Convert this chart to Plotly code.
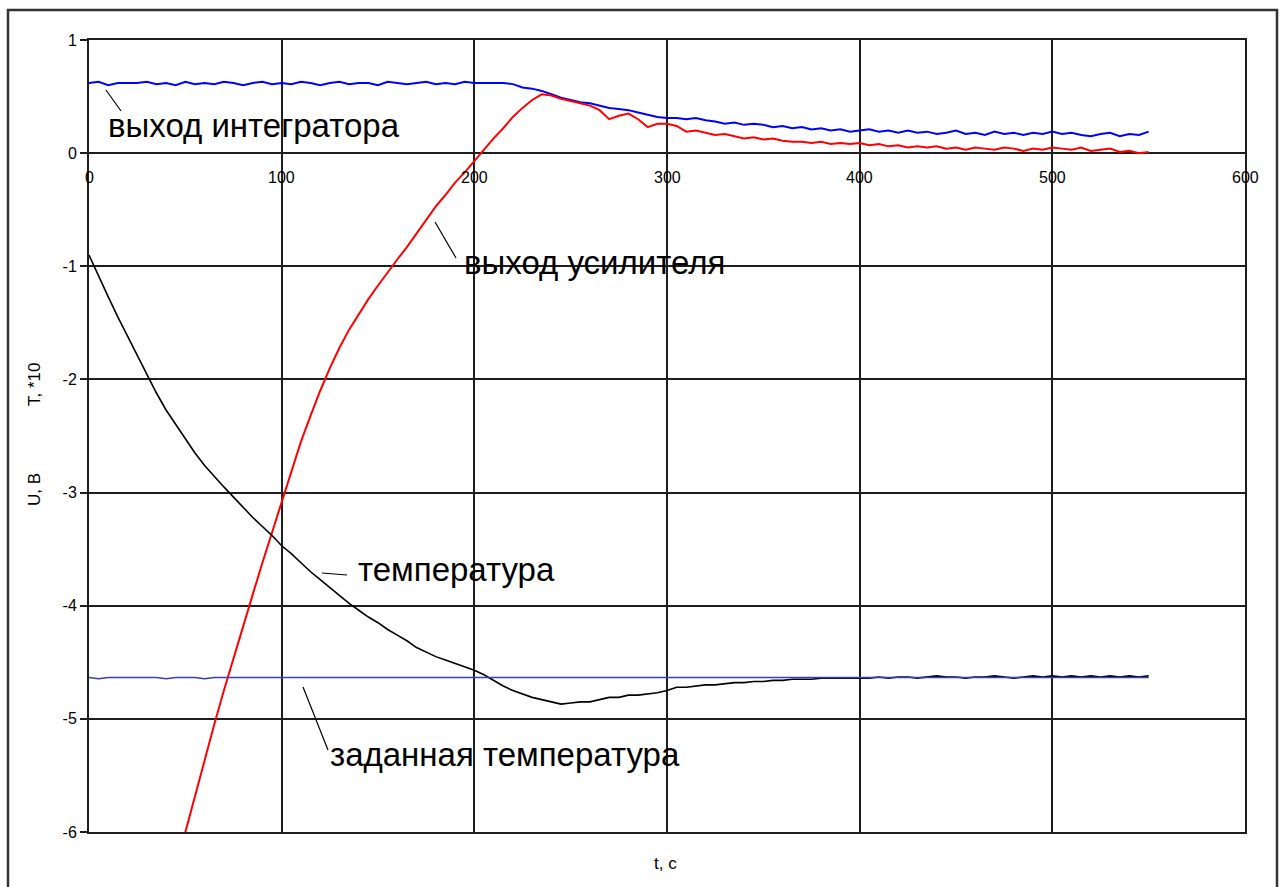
import plotly.graph_objects as go

# ---------------- data ----------------
time = list(range(0, 551, 5))  # t, c

integrator = [0.62, 0.63, 0.60, 0.62, 0.62, 0.62, 0.63, 0.61, 0.62, 0.60,
              0.63, 0.61, 0.62, 0.61, 0.63, 0.62, 0.60, 0.62, 0.63, 0.61,
              0.62, 0.61, 0.63, 0.62, 0.60, 0.62, 0.63, 0.61, 0.62, 0.62,
              0.60, 0.63, 0.62, 0.61, 0.62, 0.63, 0.61, 0.62, 0.61, 0.63,
              0.62, 0.62, 0.62, 0.62, 0.61,
              0.58, 0.57, 0.55, 0.52, 0.49, 0.47, 0.45, 0.44, 0.42, 0.40,
              0.39, 0.38, 0.36, 0.34, 0.32, 0.31, 0.31, 0.30, 0.31, 0.29,
              0.28, 0.26, 0.27, 0.25, 0.26, 0.25, 0.23, 0.24, 0.22, 0.23,
              0.21, 0.22, 0.20, 0.21, 0.19, 0.20, 0.21, 0.19, 0.20, 0.18,
              0.20, 0.18, 0.19, 0.17, 0.18, 0.20, 0.17, 0.18, 0.16, 0.19,
              0.17, 0.18, 0.16, 0.18, 0.17, 0.19, 0.17, 0.18, 0.16, 0.15,
              0.17, 0.18, 0.15, 0.17, 0.16, 0.19]

amp_time = time[9:]  # amplifier output visible from t = 45 c
amplifier = [-6.32, -6.00, -5.68, -5.37, -5.05, -4.75, -4.46, -4.18, -3.90, -3.62,
             -3.35, -3.08, -2.80, -2.55, -2.32, -2.10, -1.90, -1.72, -1.56, -1.42,
             -1.29, -1.17, -1.05, -0.94, -0.83, -0.71, -0.59, -0.47, -0.37, -0.26,
             -0.17, -0.07, 0.03, 0.13, 0.22, 0.32, 0.40, 0.47, 0.52, 0.51,
             0.48, 0.46, 0.44, 0.42, 0.38, 0.30, 0.33, 0.35, 0.30, 0.23,
             0.26, 0.26, 0.24, 0.19, 0.20, 0.18, 0.16, 0.17, 0.15, 0.13,
             0.14, 0.12, 0.13, 0.11, 0.10, 0.10, 0.09, 0.10, 0.08, 0.09,
             0.08, 0.09, 0.07, 0.08, 0.06, 0.07, 0.05, 0.06, 0.05, 0.06,
             0.04, 0.05, 0.03, 0.05, 0.04, 0.03, 0.05, 0.04, 0.02, 0.04,
             0.03, 0.05, 0.04, 0.03, 0.05, 0.02, 0.03, 0.04, 0.01, 0.02,
             0.00, 0.01]

temperature = [-0.90, -1.09, -1.27, -1.45, -1.62, -1.79, -1.96, -2.12, -2.27, -2.40,
               -2.53, -2.65, -2.76, -2.86, -2.95, -3.04, -3.13, -3.22, -3.30, -3.38,
               -3.47, -3.54, -3.62, -3.70, -3.77, -3.84, -3.91, -3.98, -4.04, -4.10,
               -4.15, -4.21, -4.26, -4.31, -4.37, -4.41, -4.45, -4.48, -4.51, -4.54,
               -4.57, -4.61, -4.66, -4.71, -4.75, -4.78, -4.81, -4.83, -4.85, -4.87,
               -4.86, -4.85, -4.85, -4.83, -4.81, -4.81, -4.79, -4.79, -4.78, -4.77,
               -4.75, -4.72, -4.72, -4.71, -4.70, -4.70, -4.69, -4.68, -4.68, -4.67,
               -4.67, -4.66, -4.66, -4.65, -4.65, -4.65, -4.64, -4.64, -4.64, -4.64,
               -4.64, -4.64, -4.63, -4.64, -4.63, -4.63, -4.64, -4.63, -4.62, -4.63,
               -4.63, -4.64, -4.63, -4.63, -4.62, -4.63, -4.64, -4.63, -4.62, -4.63,
               -4.62, -4.63, -4.62, -4.63, -4.62, -4.63, -4.62, -4.63, -4.62, -4.63,
               -4.62]

setpoint = [-4.635, -4.645, -4.635, -4.635, -4.635, -4.635, -4.635, -4.635, -4.645, -4.635,
            -4.635, -4.635, -4.645, -4.635, -4.635, -4.635, -4.640, -4.635, -4.635, -4.635,
            -4.640, -4.635, -4.635, -4.640, -4.635, -4.635, -4.640, -4.635, -4.635, -4.640,
            -4.635, -4.635, -4.635, -4.635, -4.635, -4.640, -4.635, -4.635, -4.635, -4.635,
            -4.635, -4.635, -4.635, -4.635, -4.635, -4.635, -4.635, -4.635, -4.635, -4.635,
            -4.635, -4.635, -4.635, -4.635, -4.635, -4.635, -4.635, -4.640, -4.635, -4.635,
            -4.635, -4.635, -4.635, -4.635, -4.635, -4.635, -4.635, -4.635, -4.635, -4.635,
            -4.635, -4.635, -4.635, -4.635, -4.635, -4.635, -4.635, -4.635, -4.640, -4.635,
            -4.635, -4.635, -4.635, -4.635, -4.635, -4.640, -4.635, -4.635, -4.635, -4.635,
            -4.635, -4.635, -4.635, -4.635, -4.635, -4.635, -4.635, -4.635, -4.635, -4.635,
            -4.635, -4.635, -4.635, -4.635, -4.635, -4.635, -4.635, -4.635, -4.635, -4.635,
            -4.635]

x_ticks = [0, 100, 200, 300, 400, 500, 600]
x_tick_text = ["0", "100", "200", "300", "400", "500", "600"]
y_ticks = [1, 0, -1, -2, -3, -4, -5, -6]
y_tick_text = ["1", "0", "-1", "-2", "-3", "-4", "-5", "-6"]

labels = ["выход интегратора", "выход усилителя", "температура", "заданная температура"]

# ---------------- layout helpers (pixel -> paper) ----------------
W, H = 1285, 887
L, R, T, B = 89, 40, 40, 55
PW, PH = W - L - R, H - T - B


def px(x):
    return (x - L) / PW


def py(y):
    return (H - B - y) / PH


FONT = "Liberation Sans, Arial, sans-serif"
GRID = "#1e1e1e"

fig = go.Figure()
fig.add_trace(go.Scatter(x=time, y=integrator, mode="lines",
                         line=dict(color="#0000ff", width=2)))
fig.add_trace(go.Scatter(x=amp_time, y=amplifier, mode="lines",
                         line=dict(color="#ff0000", width=2)))
fig.add_trace(go.Scatter(x=time, y=temperature, mode="lines",
                         line=dict(color="#000000", width=1.6)))
fig.add_trace(go.Scatter(x=time, y=setpoint, mode="lines",
                         line=dict(color="#3c3cb4", width=1.6)))

shapes = []
# white boxes behind labels (hide gridlines, stay under traces)
for (x0, y0, x1, y1) in [(100, 105, 412, 147), (458, 242, 803, 288),
                         (352, 548, 705, 590), (322, 732, 690, 775)]:
    shapes.append(dict(type="rect", xref="paper", yref="paper",
                       x0=px(x0), x1=px(x1), y0=py(y1), y1=py(y0),
                       fillcolor="white", line=dict(width=0), layer="between"))
# leader lines
for (x0, y0, x1, y1) in [(106, 90, 121, 111), (435, 222, 456, 258),
                         (322, 573, 347, 575), (303, 687, 328, 750)]:
    shapes.append(dict(type="line", xref="paper", yref="paper",
                       x0=px(x0), x1=px(x1), y0=py(y0), y1=py(y1),
                       line=dict(color="#000000", width=1.2)))
# outer chart frame
shapes.append(dict(type="rect", xref="paper", yref="paper",
                   x0=px(8), x1=px(1277), y0=py(895), y1=py(10),
                   line=dict(color="#333333", width=2.5), fillcolor="rgba(0,0,0,0)"))

annotations = []
for v, txt in zip(x_ticks, x_tick_text):
    annotations.append(dict(x=v, xref="x", y=0, yref="y", yshift=-24,
                            xanchor="center", yanchor="middle",
                            text=txt, showarrow=False,
                            font=dict(family=FONT, size=16, color="#000")))
label_pos = [(106, 125), (462, 262), (356, 569), (328, 754)]
for txt, (lx, ly) in zip(labels, label_pos):
    annotations.append(dict(x=px(lx), y=py(ly), xref="paper", yref="paper",
                            xanchor="left", yanchor="middle", text=txt,
                            showarrow=False,
                            font=dict(family=FONT, size=33, color="#000")))
annotations.append(dict(x=px(35), y=py(385), xref="paper", yref="paper",
                        xanchor="center", yanchor="middle",
                        text="T, *10", textangle=-90, showarrow=False,
                        font=dict(family=FONT, size=17, color="#000")))
annotations.append(dict(x=px(35), y=py(490), xref="paper", yref="paper",
                        xanchor="center", yanchor="middle",
                        text="U, B", textangle=-90, showarrow=False,
                        font=dict(family=FONT, size=17, color="#000")))
annotations.append(dict(x=px(665), y=py(863), xref="paper", yref="paper",
                        xanchor="center", yanchor="middle",
                        text="t, c", showarrow=False,
                        font=dict(family=FONT, size=17, color="#000")))

fig.update_layout(
    width=W, height=H,
    margin=dict(l=L, r=R, t=T, b=B),
    paper_bgcolor="white", plot_bgcolor="white",
    showlegend=False,
    shapes=shapes, annotations=annotations,
    xaxis=dict(range=[0, 600], tickvals=x_ticks, showticklabels=False,
               showgrid=True, gridcolor=GRID, gridwidth=2, zeroline=False,
               showline=True, mirror=True, linecolor=GRID, linewidth=2, ticks=""),
    yaxis=dict(range=[-6, 1], tickvals=y_ticks, ticktext=y_tick_text,
               showgrid=True, gridcolor=GRID,
               gridwidth=2, zeroline=False, showline=True, mirror=True,
               linecolor=GRID, linewidth=2, ticks="outside", ticklen=7,
               tickwidth=2, tickcolor=GRID,
               tickfont=dict(family=FONT, size=16, color="#000")),
)

fig.write_html("out.html")
